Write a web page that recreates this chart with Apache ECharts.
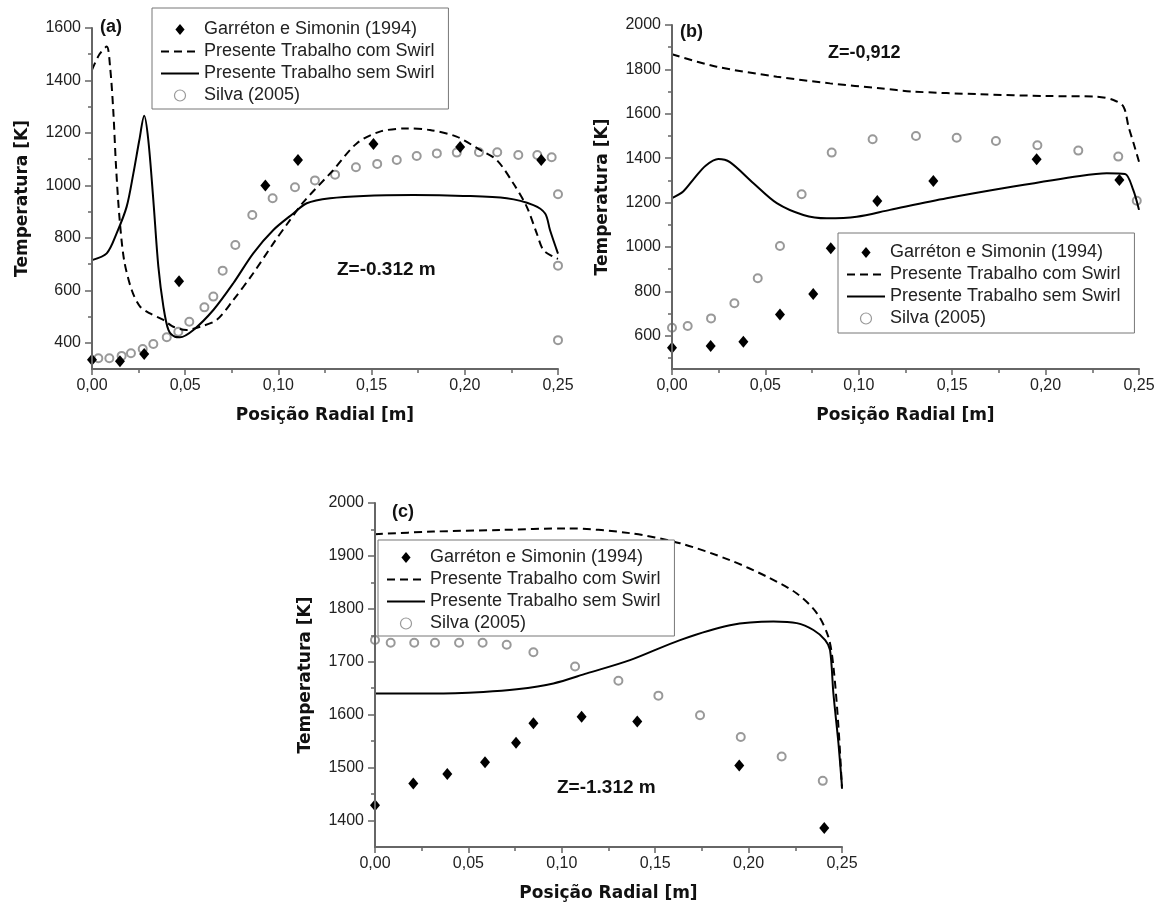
<!DOCTYPE html>
<html>
<head>
<meta charset="utf-8">
<script src="https://cdn.jsdelivr.net/npm/echarts@6/dist/echarts.min.js"></script>
<style>
  html, body { margin: 0; background: #fff; }
  #chart { width: 1173px; height: 912px; }
</style>
</head>
<body>
<div id="chart"></div>
<script>
// nomes das séries (mesma ordem da legenda)
const seriesNames = ['Garréton e Simonin (1994)', 'Presente Trabalho com Swirl', 'Presente Trabalho sem Swirl', 'Silva (2005)'];

// rótulos dos eixos Y
const aYTicks = [400, 600, 800, 1000, 1200, 1400, 1600];
const aYMinor = [500, 700, 900, 1100, 1300, 1500];
const bYTicks = [600, 800, 1000, 1200, 1400, 1600, 1800, 2000];
const bYMinor = [500, 700, 900, 1100, 1300, 1500, 1700, 1900];
const cYTicks = [1400, 1500, 1600, 1700, 1800, 1900, 2000];
const cYMinor = [1450, 1550, 1650, 1750, 1850, 1950];

// (a) Z=-0.312 m
const aGarreton = [[0, 335], [0.015, 330], [0.028, 357], [0.0467, 635], [0.093, 1000], [0.1105, 1097], [0.151, 1158], [0.1975, 1146], [0.241, 1097]];
const aCom = [[0, 1440], [0.004, 1500], [0.0079, 1529], [0.0097, 1452], [0.0114, 1287], [0.0129, 1071], [0.0147, 881], [0.0172, 716], [0.0213, 601], [0.0258, 538], [0.0311, 512], [0.0383, 487], [0.0436, 461], [0.0508, 449], [0.0579, 461], [0.0669, 487], [0.0758, 563], [0.0865, 665], [0.0973, 779], [0.1044, 850], [0.1133, 935], [0.1295, 1059], [0.142, 1160], [0.1545, 1205], [0.1688, 1217], [0.1813, 1211], [0.1956, 1186], [0.2082, 1135], [0.2171, 1097], [0.226, 1008], [0.2332, 919], [0.2386, 817], [0.2421, 754], [0.2475, 728], [0.25, 720]];
const aSem = [[0, 715], [0.0079, 741], [0.0132, 817], [0.0186, 919], [0.0222, 1046], [0.0254, 1173], [0.028, 1265], [0.0302, 1173], [0.0329, 944], [0.0356, 690], [0.0383, 538], [0.041, 449], [0.0445, 423], [0.0472, 421], [0.0544, 449], [0.0651, 525], [0.0758, 627], [0.0865, 741], [0.0973, 830], [0.108, 893], [0.1152, 932], [0.1277, 951], [0.1456, 960], [0.1724, 963], [0.1992, 960], [0.2225, 951], [0.2368, 925], [0.2431, 893], [0.2457, 830], [0.2493, 754], [0.25, 740]];
const aSilva = [[0.0034, 341], [0.0093, 341], [0.0159, 350], [0.0209, 360], [0.0272, 376], [0.0329, 395], [0.0401, 421], [0.0463, 442], [0.0522, 480], [0.0603, 535], [0.0651, 576], [0.0701, 675], [0.0769, 773], [0.086, 887], [0.0969, 951], [0.1089, 993], [0.1196, 1019], [0.1304, 1041], [0.1416, 1069], [0.153, 1082], [0.1635, 1097], [0.1742, 1112], [0.185, 1122], [0.1957, 1125], [0.2076, 1126], [0.2174, 1126], [0.2287, 1116], [0.2389, 1116], [0.2466, 1107], [0.25, 966], [0.25, 694], [0.25, 410]];

// (b) Z=-0,912
const bGarreton = [[0, 546], [0.0207, 554], [0.0382, 573], [0.0578, 696], [0.0756, 788], [0.085, 994], [0.1099, 1207], [0.1399, 1297], [0.1952, 1395], [0.2395, 1302]];
const bCom = [[0, 1868], [0.0239, 1812], [0.0561, 1767], [0.0846, 1737], [0.1113, 1715], [0.1292, 1700], [0.1649, 1688], [0.2006, 1680], [0.2274, 1677], [0.2363, 1662], [0.2417, 1632], [0.2444, 1542], [0.2471, 1467], [0.25, 1384]];
const bSem = [[0, 1220], [0.006, 1250], [0.012, 1310], [0.018, 1366], [0.0248, 1396], [0.031, 1382], [0.0436, 1287], [0.0561, 1197], [0.0703, 1144], [0.0828, 1129], [0.0989, 1136], [0.1167, 1167], [0.147, 1219], [0.1827, 1272], [0.2184, 1320], [0.2327, 1332], [0.2425, 1329], [0.2469, 1257], [0.25, 1167]];
const bSilva = [[0, 636], [0.0084, 644], [0.0209, 678], [0.0334, 746], [0.0459, 859], [0.0578, 1004], [0.0694, 1237], [0.0855, 1425], [0.1074, 1485], [0.1306, 1500], [0.1524, 1492], [0.1734, 1477], [0.1956, 1458], [0.2175, 1434], [0.2389, 1407], [0.2488, 1208]];

// (c) Z=-1.312 m
const cGarreton = [[0, 1429], [0.0205, 1470], [0.0387, 1488], [0.0589, 1510], [0.0755, 1547], [0.0848, 1584], [0.1106, 1596], [0.1404, 1587], [0.195, 1504], [0.2405, 1386]];
const cCom = [[0, 1941], [0.0312, 1946], [0.0669, 1949], [0.1026, 1952], [0.1365, 1943], [0.1633, 1924], [0.19, 1892], [0.2097, 1861], [0.2258, 1829], [0.2365, 1792], [0.2427, 1747], [0.2454, 1691], [0.2481, 1577], [0.25, 1460]];
const cSem = [[0, 1640], [0.0312, 1640], [0.058, 1643], [0.0759, 1648], [0.0955, 1659], [0.1134, 1678], [0.1365, 1703], [0.1633, 1741], [0.19, 1769], [0.2133, 1776], [0.2258, 1773], [0.2347, 1760], [0.241, 1741], [0.2436, 1722], [0.2454, 1640], [0.2481, 1546], [0.25, 1464]];
const cSilva = [[0, 1741], [0.0084, 1736], [0.021, 1736], [0.0321, 1736], [0.045, 1736], [0.0576, 1736], [0.0705, 1732], [0.0848, 1718], [0.1071, 1691], [0.1303, 1664], [0.1517, 1636], [0.174, 1599], [0.1958, 1558], [0.2177, 1521], [0.2397, 1475]];

const FONT = '"Liberation Sans", Arial, sans-serif';
const TITLE_FONT = '"DejaVu Sans", Verdana, sans-serif';
const AXIS_COLOR = '#666';
const CIRCLE_COLOR = '#999';

const panels = [
    { grid: { left: 92, top: 28, width: 466, height: 341 }, min: 300, max: 1600, ticks: aYTicks, minor: aYMinor,
      data: [aGarreton, aCom, aSem, aSilva], legend: { left: 152, top: 8, padding: [12, 14, 4, 8] } },
    { grid: { left: 672, top: 25, width: 467, height: 344 }, min: 450, max: 2000, ticks: bYTicks, minor: bYMinor,
      data: [bGarreton, bCom, bSem, bSilva], legend: { left: 838, top: 233, padding: [10, 14, 5, 8] } },
    { grid: { left: 375, top: 503, width: 467, height: 344 }, min: 1350, max: 2000, ticks: cYTicks, minor: cYMinor,
      data: [cGarreton, cCom, cSem, cSilva], legend: { left: 378, top: 540, padding: [8, 14, 3, 8] } }
];

const xAxes = panels.map((p, i) => ({
    type: 'value', gridIndex: i, min: 0, max: 0.25, interval: 0.05, z: 5,
    name: 'Posição Radial [m]', nameLocation: 'middle', nameGap: 38,
    nameTextStyle: { fontFamily: TITLE_FONT, fontWeight: 'bold', fontSize: 17, color: '#111' },
    axisLine: { lineStyle: { color: AXIS_COLOR, width: 2 } },
    axisTick: { length: 6, lineStyle: { color: AXIS_COLOR, width: 1.5 } },
    minorTick: { show: true, splitNumber: 2, length: 4, lineStyle: { color: AXIS_COLOR, width: 1.5 } },
    axisLabel: { fontFamily: FONT, fontSize: 16, color: '#222', margin: 9,
                 formatter: v => v.toFixed(2).replace('.', ',') },
    splitLine: { show: false }
}));

// eixo principal com rótulos + eixo sobreposto só com ticks menores
const yAxes = panels.map((p, i) => ({
    type: 'value', gridIndex: i, min: p.min, max: p.max, z: 5,
    name: 'Temperatura [K]', nameLocation: 'middle', nameGap: 61,
    nameTextStyle: { fontFamily: TITLE_FONT, fontWeight: 'bold', fontSize: 17, color: '#111' },
    axisLine: { show: true, lineStyle: { color: AXIS_COLOR, width: 2 } },
    axisTick: { show: true, length: 7, customValues: p.ticks, lineStyle: { color: AXIS_COLOR, width: 1.5 } },
    axisLabel: { customValues: p.ticks, fontFamily: FONT, fontSize: 16, color: '#222', margin: 11,
                 formatter: v => String(v) },
    splitLine: { show: false }
})).concat(panels.map((p, i) => ({
    type: 'value', gridIndex: i, min: p.min, max: p.max, position: 'left', z: 5,
    axisLine: { show: false },
    axisTick: { show: true, length: 4, customValues: p.minor, lineStyle: { color: AXIS_COLOR, width: 1.5 } },
    axisLabel: { show: false, customValues: p.minor },
    splitLine: { show: false }
})));

function makeSeries(name, data, i) {
    const base = { name, data, xAxisIndex: i, yAxisIndex: i, silent: true, z: 2 };
    if (name === seriesNames[0]) {
        return { ...base, type: 'scatter', symbol: 'diamond', symbolSize: [10, 12],
                 itemStyle: { color: '#000', opacity: 1 } };
    }
    if (name === seriesNames[3]) {
        return { ...base, type: 'scatter', symbol: 'emptyCircle', symbolSize: 8, z: 1,
                 itemStyle: { color: CIRCLE_COLOR, borderColor: CIRCLE_COLOR, borderWidth: 1.2, opacity: 1 } };
    }
    const dashed = name === seriesNames[1];
    return { ...base, type: 'line', symbol: 'none', smooth: 0.3, itemStyle: { color: '#000' },
             lineStyle: { color: '#000', width: 2, type: dashed ? [8, 5] : 'solid' } };
}

const series = [];
panels.forEach((p, i) => p.data.forEach((d, k) => series.push(makeSeries(seriesNames[k], d, i))));

const legendData = [
    { name: seriesNames[0], icon: 'path://M5,0L10,6L5,12L0,6Z', itemStyle: { color: '#000', opacity: 1 } },
    { name: seriesNames[1], itemStyle: { opacity: 0 } },
    { name: seriesNames[2], itemStyle: { opacity: 0 } },
    { name: seriesNames[3], icon: 'circle', itemStyle: { color: '#fff', borderColor: CIRCLE_COLOR, borderWidth: 1.2 } }
];

const legends = panels.map(p => ({
    left: p.legend.left, top: p.legend.top, orient: 'vertical',
    data: legendData, selectedMode: false,
    backgroundColor: '#fff', borderColor: '#777', borderWidth: 1, borderRadius: 0,
    padding: p.legend.padding, itemWidth: 38, itemHeight: 11, itemGap: 3,
    textStyle: { fontFamily: FONT, fontSize: 18, color: '#222', lineHeight: 19 }
}));

function label(text, x, y, size) {
    return { type: 'text', x, y, z: 10,
             style: { text, font: 'bold ' + size + 'px ' + FONT, fill: '#111', verticalAlign: 'middle' } };
}

const chart = echarts.init(document.getElementById('chart'));
chart.setOption({
    animation: false,
    backgroundColor: '#fff',
    grid: panels.map(p => ({ ...p.grid, containLabel: false })),
    xAxis: xAxes,
    yAxis: yAxes,
    legend: legends,
    series,
    graphic: [
        label('(a)', 100, 27, 18),
        label('Z=-0.312 m', 337, 270, 19),
        label('(b)', 680, 32, 18),
        label('Z=-0,912', 828, 53, 18),
        label('(c)', 392, 512, 18),
        label('Z=-1.312 m', 557, 788, 19)
    ]
});
</script>
</body>
</html>
